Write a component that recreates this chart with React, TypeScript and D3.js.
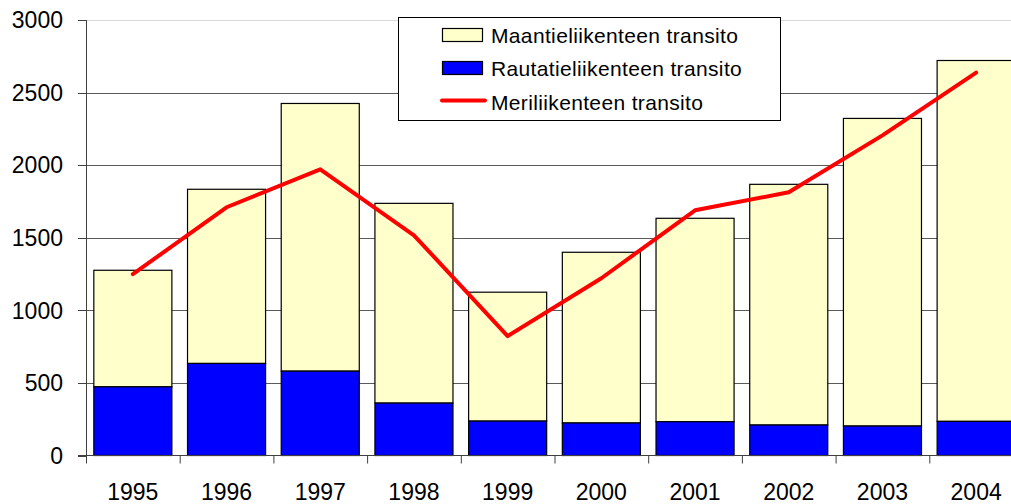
import * as d3 from "d3";

// vuosittaiset transitomäärät (luettu kuvasta)
const years = ["1995", "1996", "1997", "1998", "1999", "2000", "2001", "2002", "2003", "2004"];
const railTransit = [473, 634, 581, 361, 237, 224, 233, 210, 203, 235];
const roadTransit = [803, 1200, 1844, 1376, 888, 1176, 1401, 1658, 2119, 2486];
const seaTransit = [1249, 1710, 1971, 1517, 822, 1221, 1689, 1813, 2205, 2637];
const yTicks = [0, 500, 1000, 1500, 2000, 2500, 3000];

const seriesNames = ["Maantieliikenteen transito", "Rautatieliikenteen transito", "Meriliikenteen transito"];

const W = 1011;
const H = 504;
const left = 86;
const top = 20;
const bottom = 455.5;
const right = 1023; // plot jatkuu kuvan reunan yli

export default function App() {
  const x = d3.scaleBand<string>().domain(years).range([left, right]).paddingInner(0.167).paddingOuter(0.0835);
  const y = d3.scaleLinear().domain([0, 3000]).range([bottom, top]);
  const step = x.step();
  const bw = x.bandwidth();

  const line = d3
    .line<number>()
    .x((_, i) => (x(years[i]) as number) + bw / 2)
    .y((d) => y(d));

  const font = "'Liberation Sans', Arial, sans-serif";

  return (
    <div style={{ position: "absolute", left: 0, top: 0 }}>
      <svg width={W} height={H} style={{ display: "block", background: "#fff" }} fontFamily={font}>
        {/* gridlines */}
        {yTicks.map((t) =>
          t === 0 ? null : (
            <line
              key={`g${t}`}
              x1={left}
              x2={W}
              y1={Math.round(y(t)) + 0.5}
              y2={Math.round(y(t)) + 0.5}
              stroke={t === 3000 ? "#d9d9d9" : "#5a5a5a"}
              strokeWidth={1}
            />
          )
        )}

        {/* bars: rail bottom, road on top */}
        {years.map((yr, i) => {
          const x0 = x(yr) as number;
          const total = railTransit[i] + roadTransit[i];
          return (
            <g key={yr}>
              <rect x={x0} y={y(total)} width={bw} height={y(railTransit[i]) - y(total)} fill="#FFFFCC" stroke="#000" strokeWidth={1.2} />
              <rect x={x0} y={y(railTransit[i])} width={bw} height={y(0) - y(railTransit[i])} fill="#0000FF" stroke="#000" strokeWidth={1.2} />
            </g>
          );
        })}

        {/* axes */}
        <line x1={left + 0.5} x2={left + 0.5} y1={top} y2={bottom} stroke="#404040" strokeWidth={1} />
        <line x1={left - 8} x2={W} y1={bottom} y2={bottom} stroke="#404040" strokeWidth={1} />
        {yTicks.map((t) => (
          <g key={`t${t}`}>
            <line x1={left - 8} x2={left} y1={Math.round(y(t)) + 0.5} y2={Math.round(y(t)) + 0.5} stroke="#404040" />
            <text x={63} y={y(t)} dy="0.36em" textAnchor="end" fontSize={23} fill="#000">
              {t}
            </text>
          </g>
        ))}
        {years.map((yr, i) => (
          <g key={`x${yr}`}>
            <line x1={left + i * step + 0.5} x2={left + i * step + 0.5} y1={bottom} y2={bottom + 8} stroke="#404040" />
            <text x={(x(yr) as number) + bw / 2} y={500} textAnchor="middle" fontSize={23} fill="#000">
              {yr}
            </text>
          </g>
        ))}

        {/* sea transit line */}
        <path d={line(seaTransit) || ""} fill="none" stroke="#FF0000" strokeWidth={4} strokeLinejoin="round" strokeLinecap="round" />

        {/* legend */}
        <g>
          <rect x={398.5} y={17.5} width={382} height={103} fill="#fff" stroke="#000" strokeWidth={1} />
          <rect x={442.5} y={28.5} width={40} height={13} fill="#FFFFCC" stroke="#000" strokeWidth={1.2} />
          <rect x={442.5} y={61.5} width={40} height={13} fill="#0000FF" stroke="#000" strokeWidth={1.2} />
          <line x1={442} x2={485} y1={100.5} y2={100.5} stroke="#FF0000" strokeWidth={4} strokeLinecap="round" />
          {seriesNames.map((n, i) => (
            <text key={n} x={491} y={35 + i * 33.5} dy="0.36em" fontSize={21} letterSpacing={0.35} fill="#000">
              {n}
            </text>
          ))}
        </g>
      </svg>
    </div>
  );
}
